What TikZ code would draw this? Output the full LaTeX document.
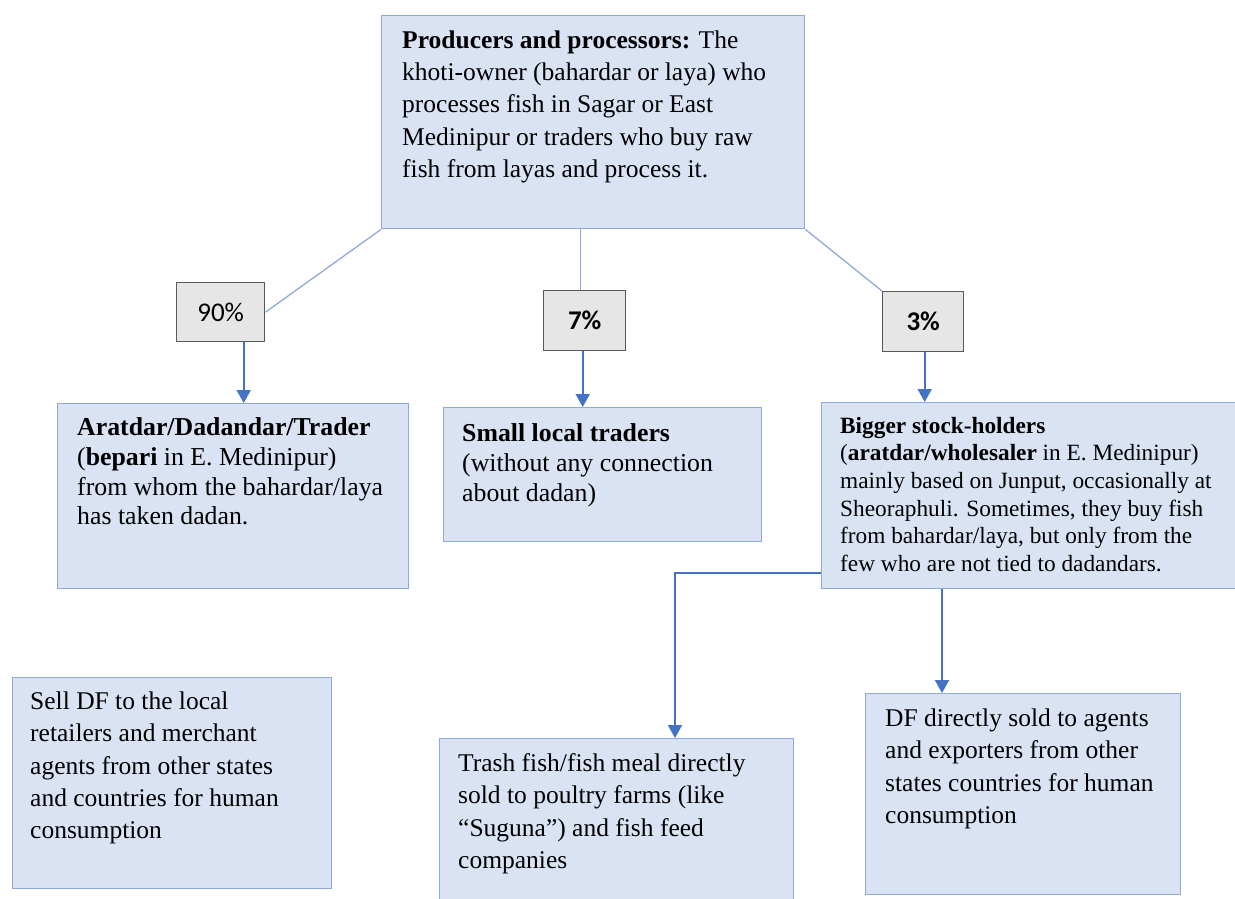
\documentclass[tikz,border=0pt]{standalone}
\usepackage{fontspec}
\setmainfont{Liberation Serif}
\newfontfamily\pctfont{Carlito}
\usetikzlibrary{arrows.meta}
\definecolor{boxfill}{HTML}{DAE3F3}
\definecolor{boxline}{HTML}{8EAADB}
\definecolor{arrowblue}{HTML}{4472C4}
\definecolor{lineblue}{HTML}{8FAADC}
\definecolor{pctfill}{HTML}{E7E6E6}
\definecolor{pctline}{HTML}{595959}
\tikzset{
  bluebox/.style={draw=boxline, fill=boxfill, line width=1.4pt, inner sep=0pt, anchor=north west, rectangle},
  pctbox/.style={draw=pctline, fill=pctfill, line width=1.4pt, inner sep=0pt, anchor=north west, rectangle, font=\pctfont\fontsize{27}{32}\selectfont},
  txt/.style={anchor=north west, inner sep=0pt, align=left, font=\fontsize{25.5}{32.3}\selectfont},
  txtb/.style={anchor=north west, inner sep=0pt, align=left, font=\fontsize{25.8}{29.7}\selectfont},
  txts/.style={anchor=north west, inner sep=0pt, align=left, font=\fontsize{23.3}{27.6}\selectfont},
  arr/.style={draw=arrowblue, line width=2pt, -{Triangle[width=14pt,length=13pt]}},
  thinline/.style={draw=lineblue, line width=1.3pt}
}
\begin{document}
\begin{tikzpicture}[x=1pt,y=-1pt]
\useasboundingbox (0,0) rectangle (1235,899);
\clip (0,0) rectangle (1235,899);
\fill[white] (0,0) rectangle (1235,899);

% boxes
\node[bluebox, minimum width=423, minimum height=213] (top) at (381,15) {};
\node[pctbox, minimum width=88, minimum height=59] (p90) at (176,282) {90\%};
\node[pctbox, minimum width=82, minimum height=60] (p7) at (543,290) {\textbf{7\%}};
\node[pctbox, minimum width=81, minimum height=60] (p3) at (882,291) {\textbf{3\%}};
\node[bluebox, minimum width=351, minimum height=185] (arat) at (57,403) {};
\node[bluebox, minimum width=318, minimum height=134] (small) at (443,407) {};
\node[bluebox, minimum width=430, minimum height=186] (big) at (821,402) {};
\node[bluebox, minimum width=319, minimum height=211] (sell) at (12,677) {};
\node[bluebox, minimum width=354, minimum height=180] (trash) at (439,738) {};
\node[bluebox, minimum width=315, minimum height=201] (df) at (865,693) {};

% texts
\node[txt] (toptext) at (402,30.5) {\textbf{Producers and processors:} The\\
khoti-owner (bahardar or laya) who\\
processes fish in Sagar or East\\
Medinipur or traders who buy raw\\
fish from layas and process it.};
\node[txtb] (arattext) at (77,417.5) {\textbf{Aratdar/Dadandar/Trader}\\
(\textbf{bepari} in E. Medinipur)\\
from whom the bahardar/laya\\
has taken dadan.};
\node[txtb] (smalltext) at (462,423.5) {\textbf{Small local traders}\\
(without any connection\\
about dadan)};
\node[txts] (bigtext) at (840,417) {\textbf{Bigger stock-holders}\\
(\textbf{aratdar/wholesaler} in E. Medinipur)\\
mainly based on Junput, occasionally at\\
Sheoraphuli. Sometimes, they buy fish\\
from bahardar/laya, but only from the\\
few who are not tied to dadandars.};
\node[txt] (selltext) at (30,691.5) {Sell DF to the local\\
retailers and merchant\\
agents from other states\\
and countries for human\\
consumption};
\node[txt] (trashtext) at (458,753.5) {Trash fish/fish meal directly\\
sold to poultry farms (like\\
“Suguna”) and fish feed\\
companies};
\node[txt] (dftext) at (885,708.5) {DF directly sold to agents\\
and exporters from other\\
states countries for human\\
consumption};

% thin connectors from top box
\draw[thinline] (top.south west) -- (p90.east);
\coordinate (t7) at ([xshift=-4pt]p7.north);
\draw[thinline] (t7 |- top.south) -- (t7);
\draw[thinline] (top.south east) -- (p3.north west);

% arrows
\coordinate (a90) at ([xshift=23pt]p90.south);
\draw[arr] (a90) -- (a90 |- arat.north);
\coordinate (a7) at ([xshift=-2pt]p7.south);
\draw[arr] (a7) -- (a7 |- small.north);
\coordinate (a3) at ([xshift=1.5pt]p3.south);
\draw[arr] (a3) -- (a3 |- big.north);
\coordinate (bl) at ([yshift=16pt]big.south west);
\coordinate (tx) at ([xshift=236pt]trash.north west);
\draw[arr] (bl) -- (bl -| tx) -- (tx);
\coordinate (bb) at ([xshift=121pt]big.south west);
\draw[arr] (bb) -- (bb |- df.north);
\end{tikzpicture}
\end{document}
